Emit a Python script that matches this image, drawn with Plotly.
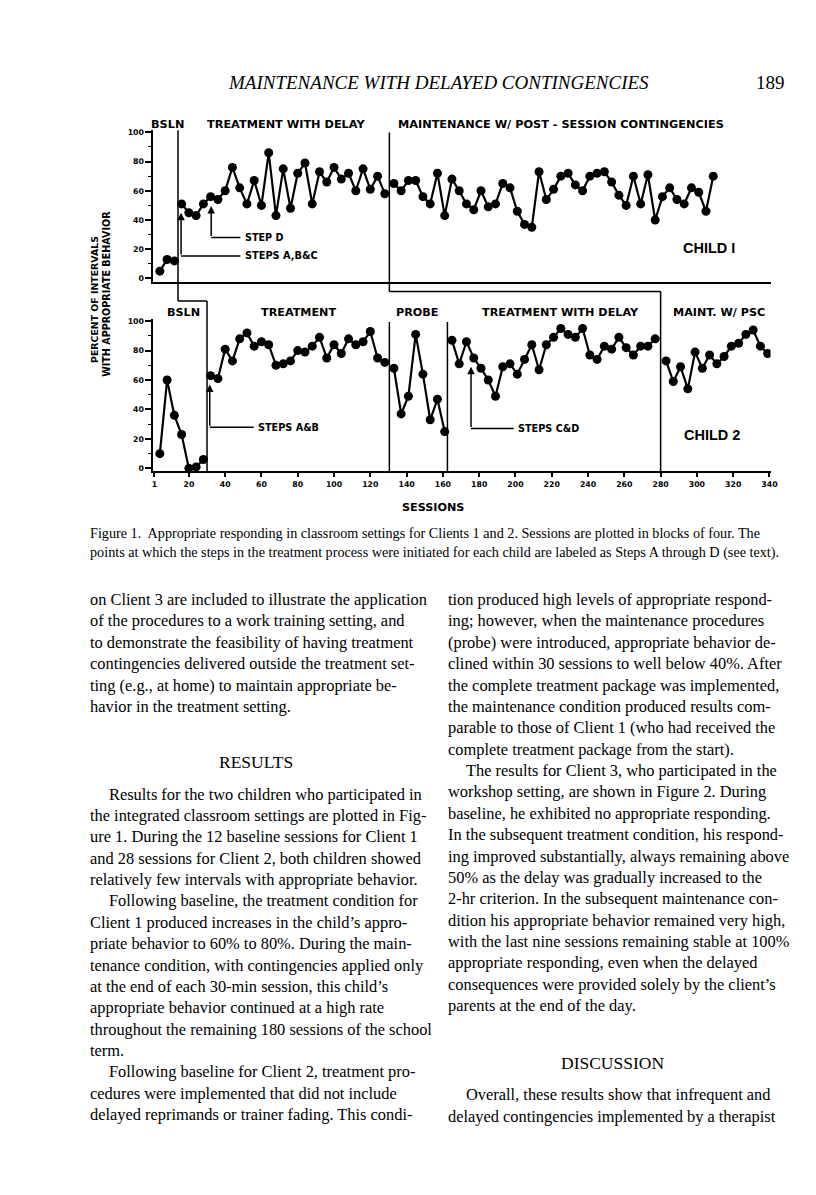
import plotly.graph_objects as go

W, H = 816, 1195

# ---------------- data (percent of intervals, sessions in blocks of four) -------------
c1_bsln_x = [4, 8, 12]
c1_bsln_y = [5, 13, 12]
c1_trt_x = [16, 20, 24, 28, 32, 36, 40, 44, 48, 52, 56, 60, 64, 68, 72, 76, 80, 84, 88, 92,
            96, 100, 104, 108, 112, 116, 120, 124, 128]
c1_trt_y = [51, 45, 43, 51, 56, 54, 60, 76, 62, 51, 67, 50, 86, 43, 75, 48, 72, 79, 51, 73,
            66, 76, 68, 72, 60, 75, 61, 70, 58]
c1_mnt_x = [133, 137, 141, 145, 149, 153, 157, 161, 165, 169, 173, 177, 181, 185, 189, 193,
            197, 201, 205, 209, 213, 217, 221, 225, 229, 233, 237, 241, 245, 249, 253, 257,
            261, 265, 269, 273, 277, 281, 285, 289, 293, 297, 301, 305, 309]
c1_mnt_y = [65, 60, 67, 67, 56, 51, 72, 43, 68, 60, 51, 47, 60, 49, 51, 65, 62, 46, 37, 35,
            73, 54, 61, 70, 72, 64, 60, 70, 72, 73, 66, 57, 50, 70, 51, 71, 40, 56, 62, 54,
            51, 62, 59, 46, 70]

c2_bsln_x = [4, 8, 12, 16, 20, 24, 28]
c2_bsln_y = [10, 60, 36, 23, 0, 1, 6]
c2_trt_x = [32, 36, 40, 44, 48, 52, 56, 60, 64, 68, 72, 76, 80, 84, 88, 92, 96, 100, 104,
            108, 112, 116, 120, 124, 128]
c2_trt_y = [63, 61, 81, 73, 88, 92, 83, 86, 84, 70, 71, 73, 80, 79, 83, 89, 75, 84, 78,
            88, 84, 86, 93, 75, 72]
c2_probe_x = [133, 137, 141, 145, 149, 153, 157, 161]
c2_probe_y = [68, 37, 49, 91, 64, 33, 47, 25]
c2_twd_x = [165, 169, 173, 177, 181, 185, 189, 193, 197, 201, 205, 209, 213, 217, 221, 225,
            229, 233, 237, 241, 245, 249, 253, 257, 261, 265, 269, 273, 277]
c2_twd_y = [87, 71, 86, 75, 68, 60, 49, 69, 71, 64, 74, 84, 67, 84, 89, 95, 91, 89, 95, 77,
            74, 83, 81, 89, 82, 77, 83, 83, 88]
c2_mnt_x = [283, 287, 291, 295, 299, 303, 307, 311, 315, 319, 323, 327, 331, 335, 339]
c2_mnt_y = [73, 59, 69, 54, 79, 68, 77, 71, 76, 83, 85, 91, 94, 83, 78]

phase_changes = [14, 30, 130.5, 162.5, 280]   # session positions of phase lines
x_ticks = [1, 20, 40, 60, 80, 100, 120, 140, 160, 180, 200, 220, 240, 260, 280, 300, 320, 340]
y_ticks = [0, 20, 40, 60, 80, 100]

top_headings = [("BSLN", 159), ("TREATMENT WITH DELAY", 279),
                ("MAINTENANCE W/ POST - SESSION CONTINGENCIES", 558)]
bot_headings = [("BSLN", 175.5), ("TREATMENT", 292), ("PROBE", 412.5),
                ("TREATMENT WITH DELAY", 557), ("MAINT. W/ PSC", 717.5)]

left_col = [
    "on Client 3 are included to illustrate the application",
    "of the procedures to a work training setting, and",
    "to demonstrate the feasibility of having treatment",
    "contingencies delivered outside the treatment set-",
    "ting (e.g., at home) to maintain appropriate be-",
    "havior in the treatment setting.",
]
left_col2 = [
    ">Results for the two children who participated in",
    "the integrated classroom settings are plotted in Fig-",
    "ure 1. During the 12 baseline sessions for Client 1",
    "and 28 sessions for Client 2, both children showed",
    "relatively few intervals with appropriate behavior.",
    ">Following baseline, the treatment condition for",
    "Client 1 produced increases in the child’s appro-",
    "priate behavior to 60% to 80%. During the main-",
    "tenance condition, with contingencies applied only",
    "at the end of each 30-min session, this child’s",
    "appropriate behavior continued at a high rate",
    "throughout the remaining 180 sessions of the school",
    "term.",
    ">Following baseline for Client 2, treatment pro-",
    "cedures were implemented that did not include",
    "delayed reprimands or trainer fading. This condi-",
]
right_col = [
    "tion produced high levels of appropriate respond-",
    "ing; however, when the maintenance procedures",
    "(probe) were introduced, appropriate behavior de-",
    "clined within 30 sessions to well below 40%. After",
    "the complete treatment package was implemented,",
    "the maintenance condition produced results com-",
    "parable to those of Client 1 (who had received the",
    "complete treatment package from the start).",
    ">The results for Client 3, who participated in the",
    "workshop setting, are shown in Figure 2. During",
    "baseline, he exhibited no appropriate responding.",
    "In the subsequent treatment condition, his respond-",
    "ing improved substantially, always remaining above",
    "50% as the delay was gradually increased to the",
    "2-hr criterion. In the subsequent maintenance con-",
    "dition his appropriate behavior remained very high,",
    "with the last nine sessions remaining stable at 100%",
    "appropriate responding, even when the delayed",
    "consequences were provided solely by the client’s",
    "parents at the end of the day.",
]
right_col2 = [
    ">Overall, these results show that infrequent and",
    "delayed contingencies implemented by a therapist",
]
caption = [
    "Figure 1.  Appropriate responding in classroom settings for Clients 1 and 2. Sessions are plotted in blocks of four. The",
    "points at which the steps in the treatment process were initiated for each child are labeled as Steps A through D (see text).",
]

# ---------------- helpers ----------------
def pxx(x):
    return x / W


def pyy(y):
    return 1 - y / H


BOLD = dict(family="Liberation Sans, Arial, sans-serif", color="black", weight="bold")
WIDE = dict(family="DejaVu Sans, sans-serif", color="black", weight="bold")
SERIF = dict(family="Liberation Serif, Times New Roman, serif", color="black")
TICKF = dict(family="DejaVu Sans, sans-serif", size=7.8, color="black", weight="bold")

fig = go.Figure()

marker = dict(color="black", size=9)
line = dict(color="black", width=2.2)
for xs, ys in [(c1_bsln_x, c1_bsln_y), (c1_trt_x, c1_trt_y), (c1_mnt_x, c1_mnt_y)]:
    fig.add_trace(go.Scatter(x=xs, y=ys, mode="lines+markers", marker=marker, line=line,
                             xaxis="x2", yaxis="y2", showlegend=False, hoverinfo="x+y"))
for xs, ys in [(c2_bsln_x, c2_bsln_y), (c2_trt_x, c2_trt_y), (c2_probe_x, c2_probe_y),
               (c2_twd_x, c2_twd_y), (c2_mnt_x, c2_mnt_y)]:
    fig.add_trace(go.Scatter(x=xs, y=ys, mode="lines+markers", marker=marker, line=line,
                             xaxis="x", yaxis="y", showlegend=False, hoverinfo="x+y"))

xdom = [pxx(145), pxx(770)]
xrange_ = [0.35, 340.6]
common_y = dict(showline=True, linecolor="black", linewidth=1.5, ticks="outside",
                ticklen=6, tickwidth=1.5, tickcolor="black", tickvals=y_ticks,
                tickfont=TICKF, showgrid=False, zeroline=False, fixedrange=True,
                minor=dict(tickvals=[10, 30, 50, 70, 90], ticks="outside", ticklen=3,
                           tickwidth=1.2, tickcolor="black"))

fig.update_layout(
    width=W, height=H, margin=dict(l=0, r=0, t=0, b=0),
    paper_bgcolor="white", plot_bgcolor="white", showlegend=False,
    xaxis=dict(domain=xdom, range=xrange_, anchor="y", showline=True, linecolor="black",
               linewidth=1.5, ticks="outside", ticklen=4, tickwidth=1.5, tickcolor="black",
               tickvals=x_ticks, ticktext=[str(v) for v in x_ticks], tickfont=TICKF,
               showgrid=False, zeroline=False),
    xaxis2=dict(domain=xdom, range=xrange_, anchor="y2", showline=True, linecolor="black",
                linewidth=1.5, ticks="", showticklabels=False, showgrid=False, zeroline=False),
    yaxis=dict(common_y, domain=[pyy(463), pyy(310)], range=[-2.1, 101.5], anchor="x"),
    yaxis2=dict(common_y, domain=[pyy(273), pyy(120.7)], range=[-2.5, 101.4], anchor="x2"),
)

# ---------------- phase lines ----------------
shapes = []


def seg(x0, y0, x1, y1):
    shapes.append(dict(type="line", xref="x", yref="paper", x0=x0, x1=x1,
                       y0=pyy(y0), y1=pyy(y1), line=dict(color="black", width=1.5)))


p0, p1, p2, p3, p4 = phase_changes
seg(p0, 120.7, p0, 292)
seg(p0, 292, p1, 292)
seg(p1, 292, p1, 463)
seg(p2, 123, p2, 282.5)
seg(p2, 282.5, p4, 282.5)
seg(p4, 282.5, p4, 463)
seg(p2, 313, p2, 463)
seg(p3, 313, p3, 463)


# step arrows: vertical arrow up to the data point, horizontal leader to label
def step(xa, ya, yb, xl, label, xax, yax, size):
    shapes.append(dict(type="line", xref=xax, yref=yax, x0=xa, x1=xl, y0=yb, y1=yb,
                       line=dict(color="black", width=1.5)))
    fig.add_annotation(x=xa, y=ya, ax=xa, ay=yb, xref=xax, yref=yax, axref=xax, ayref=yax,
                       text="", showarrow=True, arrowhead=2, arrowsize=1, arrowwidth=1.5,
                       arrowcolor="black")
    fig.add_annotation(x=xl + 1.5, y=yb, xref=xax, yref=yax, text=label, showarrow=False,
                       xanchor="left", yanchor="middle", font=dict(WIDE, size=size))


step(32.3, 49.5, 28, 48.4, "STEP D", "x2", "y2", 9.6)
step(15.7, 45, 15.4, 48.4, "STEPS A,B&C", "x2", "y2", 9.8)
step(31.5, 57, 28, 55.7, "STEPS A&B", "x", "y", 9.7)
step(175.5, 69, 27, 199, "STEPS C&D", "x", "y", 9.7)

fig.update_layout(shapes=shapes)


def txt(x, y, s, font, xanchor="center", angle=0):
    fig.add_annotation(x=pxx(x), y=pyy(y), xref="paper", yref="paper", text=s,
                       showarrow=False, xanchor=xanchor, yanchor="middle", font=font,
                       textangle=angle)


for s, x in top_headings:
    txt(x, 115, s, dict(WIDE, size=11.3))
for s, x in bot_headings:
    txt(x, 303.5, s, dict(WIDE, size=11.2))

txt(708, 238.7, "CHILD I", dict(BOLD, size=14.5))
txt(711, 426.7, "CHILD 2", dict(BOLD, size=14.5))
txt(428.5, 499, "SESSIONS", dict(WIDE, size=11.2))
txt(85, 290, "PERCENT OF INTERVALS", dict(WIDE, size=9.4), angle=-90)
txt(97, 285, "WITH APPROPRIATE BEHAVIOR", dict(WIDE, size=9.6), angle=-90)

# page header
txt(434, 73, "<i>MAINTENANCE WITH DELAYED CONTINGENCIES</i>", dict(SERIF, size=19))
txt(770, 73, "189", dict(SERIF, size=19))

# caption
for i, s in enumerate(caption):
    txt(79, 525 + 19.5 * i, s, dict(SERIF, size=14.2), xanchor="left")

BODY = dict(SERIF, size=16.4)
LS = 21.45


def column(lines, x0, y0):
    for i, s in enumerate(lines):
        indent = 0
        if s.startswith(">"):
            s = s[1:]
            indent = 19
        txt(x0 + indent, y0 + LS * i, s, BODY, xanchor="left")


column(left_col, 79, 591.5)
txt(249, 755, "RESULTS", dict(SERIF, size=17.5))
column(left_col2, 79, 786.7)
column(right_col, 441, 591.5)
txt(610, 1056.7, "DISCUSSION", dict(SERIF, size=17.5))
column(right_col2, 441, 1088.3)

fig.write_html("out.html")
